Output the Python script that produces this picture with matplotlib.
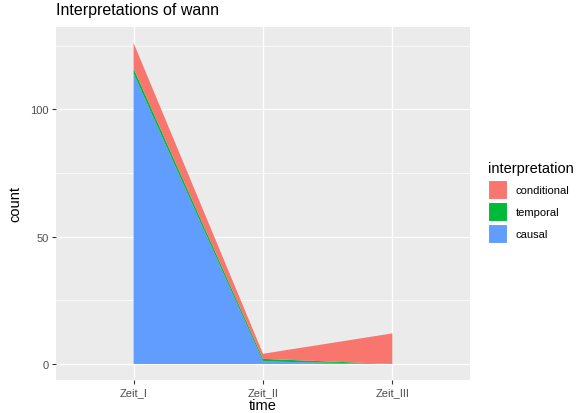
import matplotlib
matplotlib.use("Agg")
import matplotlib.pyplot as plt
import numpy as np
from matplotlib.patches import Rectangle

plt.rcParams['font.family'] = ['Liberation Sans', 'DejaVu Sans']

times = ["Zeit_I", "Zeit_II", "Zeit_III"]
causal = [114, 1, 0]
temporal = [2, 1, 0]
conditional = [10, 2, 12]
series_names = ["causal", "temporal", "conditional"]
colors = {"conditional": "#F8766D", "temporal": "#00BA38", "causal": "#619CFF"}

W, H = 583, 414
fig = plt.figure(figsize=(W / 100, H / 100), dpi=100)
L, R, T, B = 56, 470, 28, 381
ax = fig.add_axes([L / W, 1 - B / H, (R - L) / W, (B - T) / H])
ax.set_facecolor("#EBEBEB")

x = np.arange(1, len(times) + 1)
ax.stackplot(x, causal, temporal, conditional,
             colors=[colors[n] for n in series_names], linewidth=0, zorder=3)

total = np.array(causal) + np.array(temporal) + np.array(conditional)
ax.set_xlim(0.4, 3.6)
ymax = total.max()
ax.set_ylim(-0.05 * ymax, ymax * 1.05)

for yv in [25, 75, 125]:
    ax.axhline(yv, color="white", lw=0.5, zorder=1)
for yv in [0, 50, 100]:
    ax.axhline(yv, color="white", lw=1.0, zorder=1)
for xv in x:
    ax.axvline(xv, color="white", lw=1.0, zorder=1)

ax.set_xticks(x)
ax.set_xticklabels(times)
ax.set_yticks([0, 50, 100])
ax.tick_params(axis="both", colors="#333333", labelcolor="#4D4D4D", labelsize=8,
               length=3, width=0.8, pad=2)
for s in ax.spines.values():
    s.set_visible(False)

ax.set_xlabel("time", fontsize=10.5, color="black", labelpad=1)
ax.set_ylabel("count", fontsize=10.5, color="black", labelpad=6)
fig.text(L / W, 1 - 11 / H, "Interpretations of wann", fontsize=11.5, ha="left", va="center")

# legend
fig.text(488 / W, 1 - 169 / H, "interpretation", fontsize=10.5, ha="left", va="center")
key_y = [181, 203, 225]
for name, ky in zip(["conditional", "temporal", "causal"], key_y):
    fig.patches.append(Rectangle((488 / W, 1 - (ky + 19) / H), 19 / W, 19 / H,
                                 transform=fig.transFigure, facecolor=colors[name],
                                 edgecolor="white", lw=0.8))
    fig.text(516 / W, 1 - (ky + 10) / H, name, fontsize=8, ha="left", va="center")

fig.savefig("out.png", dpi=100)
